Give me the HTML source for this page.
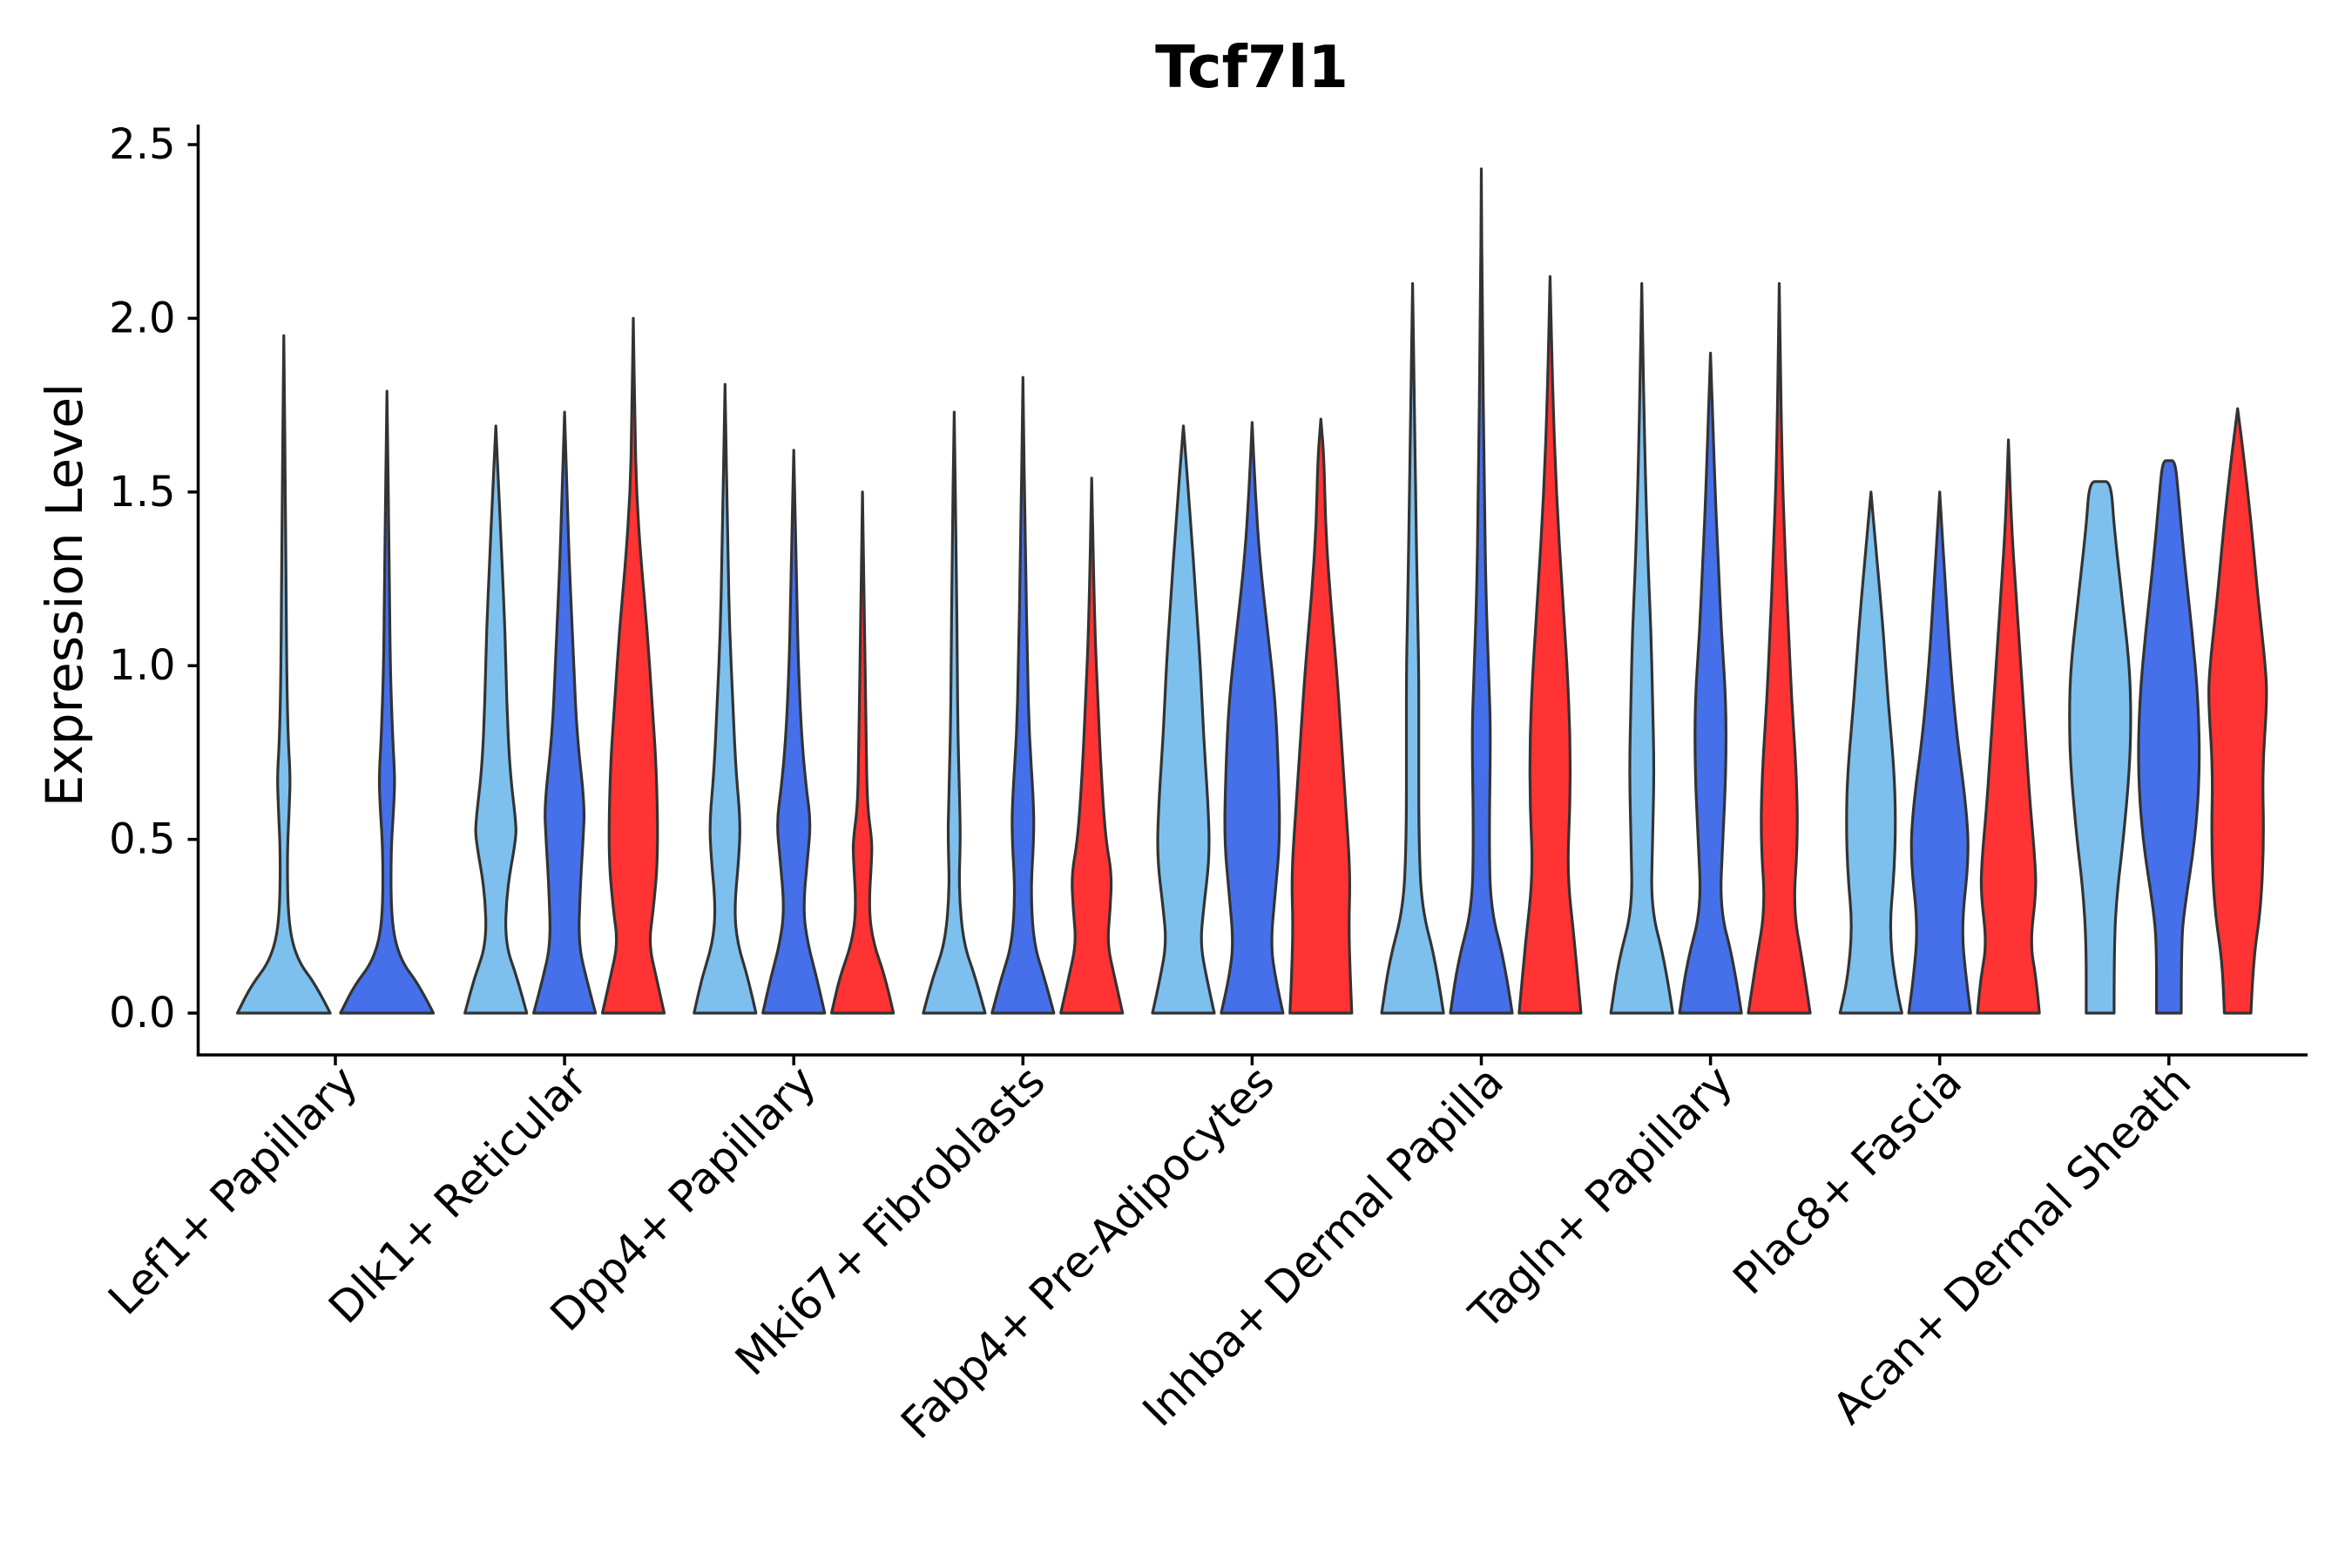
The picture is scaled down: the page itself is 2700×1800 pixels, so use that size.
<!DOCTYPE html>
<html><head><meta charset="utf-8"><style>
html,body{margin:0;padding:0;background:#fff;}
svg{display:block;font-family:"DejaVu Sans","Liberation Sans",sans-serif;}
</style></head><body>
<svg id="chart" width="2700" height="1800" viewBox="0 0 2700 1800" xmlns="http://www.w3.org/2000/svg">
<rect width="2700" height="1800" fill="#fff"/>
<text x="1437" y="100" text-anchor="middle" font-size="67" font-weight="bold" fill="#000">Tcf7l1</text>
<text transform="translate(94,683) rotate(-90)" text-anchor="middle" font-size="58" fill="#000">Expression Level</text>
<g id="plot"></g>
</svg>
<script>
const categories = ["Lef1+ Papillary","Dlk1+ Reticular","Dpp4+ Papillary","Mki67+ Fibroblasts","Fabp4+ Pre-Adipocytes","Inhba+ Dermal Papilla","Tagln+ Papillary","Plac8+ Fascia","Acan+ Dermal Sheath"];
const yTicks = [0,0.5,1.0,1.5,2.0,2.5];
const yTickLabels = ["0.0","0.5","1.0","1.5","2.0","2.5"];
const seriesColors = ["#7DC0EE","#4570EA","#FF3333"];
const lef1 = [
 [0,[[0,1],[0.08,0.7],[0.15,0.3],[0.25,0.1],[0.45,0.07],[0.6,0.12],[0.68,0.14],[0.8,0.09],[1.0,0.06],[1.4,0.04],[1.95,0]]],
 [1,[[0,1],[0.08,0.7],[0.15,0.3],[0.25,0.1],[0.45,0.08],[0.6,0.15],[0.68,0.17],[0.8,0.12],[1.0,0.07],[1.3,0.05],[1.79,0]]]];
const dlk1 = [
 [0,[[0,1],[0.1,0.7],[0.2,0.3],[0.35,0.35],[0.5,0.65],[0.55,0.65],[0.7,0.45],[0.9,0.35],[1.1,0.3],[1.3,0.2],[1.5,0.1],[1.69,0]]],
 [1,[[0,1],[0.1,0.7],[0.2,0.45],[0.35,0.5],[0.5,0.6],[0.6,0.65],[0.8,0.4],[1.0,0.3],[1.3,0.15],[1.5,0.08],[1.73,0]]],
 [2,[[0,1],[0.1,0.75],[0.2,0.5],[0.3,0.65],[0.45,0.8],[0.7,0.75],[0.9,0.6],[1.1,0.45],[1.3,0.25],[1.5,0.1],[1.7,0.05],[2.0,0]]]];
const dpp4 = [
 [0,[[0,1],[0.1,0.75],[0.2,0.4],[0.3,0.3],[0.45,0.45],[0.55,0.5],[0.7,0.35],[0.9,0.25],[1.1,0.15],[1.3,0.1],[1.81,0]]],
 [1,[[0,1],[0.1,0.75],[0.2,0.45],[0.3,0.3],[0.45,0.45],[0.55,0.55],[0.65,0.4],[0.8,0.25],[1.0,0.15],[1.2,0.1],[1.62,0]]],
 [2,[[0,1],[0.1,0.75],[0.2,0.35],[0.3,0.2],[0.45,0.3],[0.5,0.3],[0.6,0.15],[0.8,0.12],[1.0,0.08],[1.5,0]]]];
const mki67 = [
 [0,[[0,1],[0.1,0.7],[0.2,0.3],[0.35,0.15],[0.5,0.2],[0.6,0.18],[0.8,0.12],[1.0,0.1],[1.3,0.07],[1.73,0]]],
 [1,[[0,1],[0.1,0.7],[0.2,0.35],[0.35,0.25],[0.5,0.35],[0.6,0.35],[0.8,0.2],[1.0,0.15],[1.3,0.08],[1.83,0]]],
 [2,[[0,1],[0.1,0.75],[0.2,0.5],[0.3,0.6],[0.4,0.65],[0.5,0.45],[0.7,0.3],[0.9,0.2],[1.1,0.1],[1.54,0]]]];
const fabp4 = [
 [0,[[0,1],[0.1,0.75],[0.2,0.55],[0.3,0.65],[0.45,0.85],[0.6,0.8],[0.8,0.65],[1.0,0.55],[1.2,0.4],[1.4,0.25],[1.69,0]]],
 [1,[[0,1],[0.1,0.75],[0.2,0.6],[0.35,0.75],[0.5,0.9],[0.7,0.85],[0.9,0.75],[1.1,0.5],[1.3,0.25],[1.5,0.1],[1.7,0]]],
 [2,[[0,1],[0.1,0.95],[0.25,0.9],[0.4,0.95],[0.6,0.8],[0.8,0.65],[1.0,0.5],[1.2,0.3],[1.4,0.15],[1.6,0.1],[1.71,0]]]];
const inhba = [
 [0,[[0,1],[0.15,0.75],[0.3,0.3],[0.5,0.2],[0.8,0.2],[1.0,0.2],[1.2,0.15],[1.5,0.1],[1.8,0.05],[2.1,0]]],
 [1,[[0,1],[0.15,0.75],[0.3,0.3],[0.5,0.25],[0.8,0.3],[0.95,0.25],[1.2,0.15],[1.5,0.1],[2.0,0.03],[2.43,0]]],
 [2,[[0,1],[0.2,0.8],[0.4,0.55],[0.6,0.65],[0.8,0.65],[1.0,0.55],[1.2,0.4],[1.5,0.2],[1.8,0.08],[2.12,0]]]];
const tagln = [
 [0,[[0,1],[0.15,0.75],[0.3,0.3],[0.5,0.35],[0.7,0.4],[0.9,0.35],[1.1,0.3],[1.3,0.2],[1.6,0.1],[2.1,0]]],
 [1,[[0,1],[0.15,0.75],[0.3,0.3],[0.5,0.4],[0.7,0.5],[0.9,0.5],[1.1,0.35],[1.3,0.25],[1.5,0.15],[1.9,0]]],
 [2,[[0,1],[0.15,0.75],[0.3,0.45],[0.5,0.6],[0.7,0.55],[0.9,0.4],[1.1,0.3],[1.3,0.2],[1.6,0.08],[2.1,0]]]];
const plac8 = [
 [0,[[0,1],[0.1,0.75],[0.25,0.6],[0.4,0.75],[0.55,0.8],[0.7,0.75],[0.9,0.55],[1.1,0.4],[1.3,0.2],[1.5,0]]],
 [1,[[0,1],[0.1,0.85],[0.25,0.7],[0.45,0.95],[0.6,0.85],[0.8,0.55],[1.0,0.35],[1.2,0.2],[1.5,0]]],
 [2,[[0,1],[0.1,0.9],[0.2,0.7],[0.35,0.9],[0.45,0.85],[0.6,0.7],[0.8,0.55],[1.0,0.4],[1.2,0.25],[1.4,0.1],[1.65,0]]]];
const acan = [
 [0,[[0,0.45],[0.2,0.45],[0.35,0.55],[0.5,0.75],[0.7,0.95],[0.85,1],[1.0,0.95],[1.2,0.7],[1.4,0.45],[1.53,0.35],[1.53,0]]],
 [1,[[0,0.4],[0.2,0.4],[0.3,0.5],[0.5,0.85],[0.7,1],[0.9,0.95],[1.1,0.75],[1.3,0.5],[1.5,0.3],[1.59,0.2],[1.59,0]]],
 [2,[[0,0.43],[0.15,0.5],[0.3,0.75],[0.5,0.85],[0.7,0.8],[0.9,0.95],[1.0,0.9],[1.2,0.65],[1.4,0.45],[1.6,0.2],[1.74,0]]]];
const groups = [lef1,dlk1,dpp4,mki67,fabp4,inhba,tagln,plac8,acan];

const NS="http://www.w3.org/2000/svg";
const plot=document.getElementById('plot');
const X0=227.5, X1=2649, YTOP=143, YBOT=1211;
const Y0PX=1163, PXPERUNIT=398.8, BAND=263.1, FIRSTX=385;
function yScale(v){return Y0PX - v*PXPERUNIT;}
function xScale(i){return FIRSTX + i*BAND;}
function mk(tag,attrs){const e=document.createElementNS(NS,tag);for(const k in attrs)e.setAttribute(k,attrs[k]);return e;}

groups.forEach((g,gi)=>{
  const n=g.length, cx=xScale(gi);
  const slot=BAND*0.9/n;
  const half=slot/2*0.9;
  g.forEach((v,vi)=>{
    const si=v[0], prof=v[1];
    const vx=cx + (vi-(n-1)/2)*slot;
    const right=prof.map(p=>[vx+p[1]*half, yScale(p[0])]);
    const left=prof.slice().reverse().map(p=>[vx-p[1]*half, yScale(p[0])]);
    const pts=right.concat(left);
    let d='M'+pts[0][0].toFixed(1)+','+pts[0][1].toFixed(1);
    for(let i=1;i<pts.length-1;i++){
      const mx=(pts[i][0]+pts[i+1][0])/2, my=(pts[i][1]+pts[i+1][1])/2;
      d+=' Q'+pts[i][0].toFixed(1)+','+pts[i][1].toFixed(1)+' '+mx.toFixed(1)+','+my.toFixed(1);
    }
    const last=pts[pts.length-1];
    d+=' L'+last[0].toFixed(1)+','+last[1].toFixed(1)+' Z';
    const p=mk('path',{d:d,fill:seriesColors[si],stroke:'#333','stroke-width':3.2,'stroke-linejoin':'round'});
    
    
    plot.appendChild(p);
  });
});

const ya=mk('line',{x1:X0,y1:YTOP,x2:X0,y2:YBOT,stroke:'#000','stroke-width':3.5});


plot.appendChild(ya);
const xa=mk('line',{x1:X0-1.75,y1:YBOT,x2:X1,y2:YBOT,stroke:'#000','stroke-width':3.5});


plot.appendChild(xa);

yTicks.forEach((t,i)=>{
  const y=yScale(t);
  const tk=mk('line',{x1:X0-12,y1:y,x2:X0,y2:y,stroke:'#000','stroke-width':3.5});
  
  
  plot.appendChild(tk);
  const tx=mk('text',{x:X0-26,y:y+16,'text-anchor':'end','font-size':48,fill:'#000'});
  tx.textContent=yTickLabels[i];
  
  
  plot.appendChild(tx);
});
categories.forEach((c,i)=>{
  const x=xScale(i);
  const tk=mk('line',{x1:x,y1:YBOT,x2:x,y2:YBOT+12,stroke:'#000','stroke-width':3.5});
  
  
  plot.appendChild(tk);
  const tx=mk('text',{transform:'translate('+(x+28)+','+(YBOT+34)+') rotate(-45)','text-anchor':'end','font-size':50,fill:'#000'});
  tx.textContent=c;
  
  
  plot.appendChild(tx);
});
</script>
</body></html>
